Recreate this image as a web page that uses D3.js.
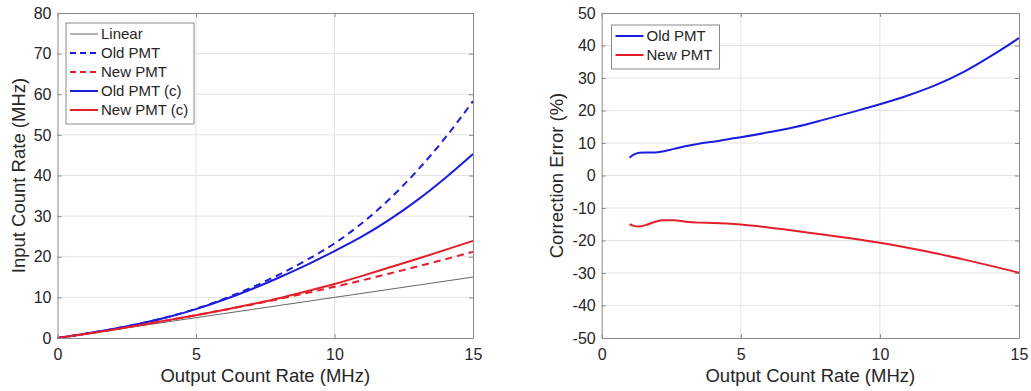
<!DOCTYPE html>
<html>
<head>
<meta charset="utf-8">
<script src="https://cdn.jsdelivr.net/npm/d3@7"></script>
<style>
    body { margin: 0; background: #fff; }
    svg text { font-family: "Liberation Sans", Arial, sans-serif; fill: #262626; }
    .grid line { stroke: #e3e3e3; stroke-width: 1; }
    .axis path, .axis line { stroke: #8a8a8a; }
    .axis text { font-size: 16px; }
    .axisTitle { font-size: 18.5px; }
    .legend text { font-size: 15px; }
</style>
</head>
<body>
<div id="chart"></div>
<script>

// left panel: input vs output count rate (MHz)
var outputRate = [0, 1, 2, 3, 4, 5, 6, 7, 8, 9, 10, 11, 12, 13, 14, 15];
var linearIn   = [0, 1, 2, 3, 4, 5, 6, 7, 8, 9, 10, 11, 12, 13, 14, 15];
var oldPmt     = [0, 1.05, 2.2, 3.6, 5.2, 7.2, 9.6, 12.4, 15.6, 19.2, 23.3, 28.3, 34.3, 41.3, 49.3, 58.3];
var newPmt     = [0, 1.0, 2.05, 3.2, 4.4, 5.6, 6.9, 8.2, 9.6, 11.1, 12.6, 14.2, 15.9, 17.6, 19.4, 21.2];
var oldPmtC    = [0, 1.05, 2.2, 3.55, 5.15, 7.1, 9.4, 12.0, 14.9, 18.0, 21.4, 25.0, 29.2, 34.0, 39.4, 45.3];
var newPmtC    = [0, 1.0, 2.05, 3.2, 4.4, 5.6, 6.9, 8.3, 9.8, 11.5, 13.3, 15.3, 17.4, 19.5, 21.7, 23.9];

// right panel: correction error (%)
var errRate = [1.0, 1.15, 1.35, 1.6, 1.9, 2.2, 2.6, 3.0, 3.5, 4, 4.5, 5, 6, 7, 8, 9, 10, 11, 12, 13, 14, 15];
var errOld  = [5.5, 6.4, 7.0, 7.1, 7.1, 7.4, 8.2, 9.0, 9.8, 10.4, 11.1, 11.8, 13.3, 15.0, 17.2, 19.5, 21.9, 24.6, 27.8, 31.8, 36.8, 42.3];
var errNew  = [-15.0, -15.5, -15.7, -15.2, -14.3, -13.8, -13.8, -14.2, -14.5, -14.6, -14.8, -15.1, -16.0, -17.1, -18.2, -19.4, -20.7, -22.2, -23.9, -25.8, -27.8, -29.9];

var xTicks = [0, 5, 10, 15];
var leftYTicks = [0, 10, 20, 30, 40, 50, 60, 70, 80];
var rightYTicks = [-50, -40, -30, -20, -10, 0, 10, 20, 30, 40, 50];

var BLUE = "#1c1cdc";
var RED = "#e51e2a";

//plain hyphen minus like the original, not the unicode one d3 uses
var plainFormat = function(d){ return String(d); };

/**
 * One MATLAB-style panel: boxed axes, inward ticks, grid, lines, legend
 */
function Panel(svg, box, yDomain, yTicks, yTitle, yTitleX){
    var self = this;
    self.box = box;
    self.g = svg.append("g").attr("transform", "translate(" + box.left + "," + box.top + ")");
    self.w = box.right - box.left;
    self.h = box.bottom - box.top;

    self.x = d3.scaleLinear().domain([0, 15]).range([0, self.w]);
    self.y = d3.scaleLinear().domain(yDomain).range([self.h, 0]);

    //grid lines first so everything sits on top
    var grid = self.g.append("g").attr("class", "grid");
    grid.selectAll(".gx").data(xTicks.slice(1, -1)).enter().append("line")
        .attr("x1", function(d){ return self.x(d); })
        .attr("x2", function(d){ return self.x(d); })
        .attr("y1", 0).attr("y2", self.h);
    grid.selectAll(".gy").data(yTicks.slice(1, -1)).enter().append("line")
        .attr("y1", function(d){ return self.y(d); })
        .attr("y2", function(d){ return self.y(d); })
        .attr("x1", 0).attr("x2", self.w);

    self.lineLayer = self.g.append("g");

    self.g.append("g").attr("class", "axis")
        .attr("transform", "translate(0," + self.h + ")")
        .call(d3.axisBottom(self.x).tickValues(xTicks).tickSize(-4).tickPadding(11).tickSizeOuter(0).tickFormat(plainFormat));
    self.g.append("g").attr("class", "axis")
        .call(d3.axisTop(self.x).tickValues(xTicks).tickSize(-4).tickSizeOuter(0).tickFormat(""));
    self.g.append("g").attr("class", "axis")
        .call(d3.axisLeft(self.y).tickValues(yTicks).tickSize(-4).tickPadding(6).tickSizeOuter(0).tickFormat(plainFormat));
    self.g.append("g").attr("class", "axis")
        .attr("transform", "translate(" + self.w + ",0)")
        .call(d3.axisRight(self.y).tickValues(yTicks).tickSize(-4).tickSizeOuter(0).tickFormat(""));
    self.g.selectAll(".axis .domain").attr("stroke", "#8a8a8a");

    self.g.append("text").attr("class", "axisTitle")
        .attr("x", self.w / 2).attr("y", self.h + 44)
        .attr("text-anchor", "middle")
        .text("Output Count Rate (MHz)");
    self.g.append("text").attr("class", "axisTitle")
        .attr("transform", "translate(" + (yTitleX - box.left) + "," + (self.h / 2) + ") rotate(-90)")
        .attr("text-anchor", "middle")
        .attr("dy", "0.35em")
        .text(yTitle);
}

Panel.prototype.addLine = function(xs, ys, color, width, dash){
    var self = this;
    var pts = xs.map(function(v, i){ return [v, ys[i]]; });
    var line = d3.line()
        .x(function(d){ return self.x(d[0]); })
        .y(function(d){ return self.y(d[1]); })
        .curve(d3.curveMonotoneX);
    self.lineLayer.append("path")
        .datum(pts)
        .attr("d", line)
        .attr("fill", "none")
        .attr("stroke", color)
        .attr("stroke-width", width)
        .attr("stroke-dasharray", dash || null);
};

Panel.prototype.addLegend = function(items, lx, ly, lw, rowH){
    var self = this;
    var leg = self.g.append("g").attr("class", "legend")
        .attr("transform", "translate(" + (lx - self.box.left) + "," + (ly - self.box.top) + ")");
    leg.append("rect")
        .attr("width", lw).attr("height", items.length * rowH + 6)
        .attr("fill", "#fff").attr("stroke", "#8a8a8a");
    var rows = leg.selectAll(".row").data(items).enter().append("g")
        .attr("transform", function(d, i){ return "translate(0," + (11 + i * rowH) + ")"; });
    rows.append("line")
        .attr("x1", 4).attr("x2", 32).attr("y1", 0).attr("y2", 0)
        .attr("stroke", function(d){ return d.color; })
        .attr("stroke-width", function(d){ return d.width; })
        .attr("stroke-dasharray", function(d){ return d.dash || null; });
    rows.append("text")
        .attr("x", 35).attr("dy", "0.35em")
        .text(function(d){ return d.name; });
};

var svg = d3.select("#chart").append("svg")
    .attr("width", 1031).attr("height", 391);

var left = new Panel(svg, {left: 57.5, right: 473, top: 13, bottom: 338},
    [0, 80], leftYTicks, "Input Count Rate (MHz)", 19);
left.addLine(outputRate, linearIn, "#555", 0.9);
left.addLine(outputRate, oldPmt, BLUE, 2, "7,5");
left.addLine(outputRate, newPmt, RED, 2, "7,5");
left.addLine(outputRate, oldPmtC, BLUE, 2);
left.addLine(outputRate, newPmtC, RED, 2);
left.addLegend([
    {name: "Linear", color: "#555", width: 0.9},
    {name: "Old PMT", color: BLUE, width: 2, dash: "6,4"},
    {name: "New PMT", color: RED, width: 2, dash: "6,4"},
    {name: "Old PMT (c)", color: BLUE, width: 2},
    {name: "New PMT (c)", color: RED, width: 2}
], 66, 23, 128, 19);

var right = new Panel(svg, {left: 601.7, right: 1019, top: 13, bottom: 338},
    [-50, 50], rightYTicks, "Correction Error (%)", 557);
right.addLine(errRate, errOld, BLUE, 2);
right.addLine(errRate, errNew, RED, 2);
right.addLegend([
    {name: "Old PMT", color: BLUE, width: 2},
    {name: "New PMT", color: RED, width: 2}
], 611.5, 25, 108, 19);

</script>
</body>
</html>
